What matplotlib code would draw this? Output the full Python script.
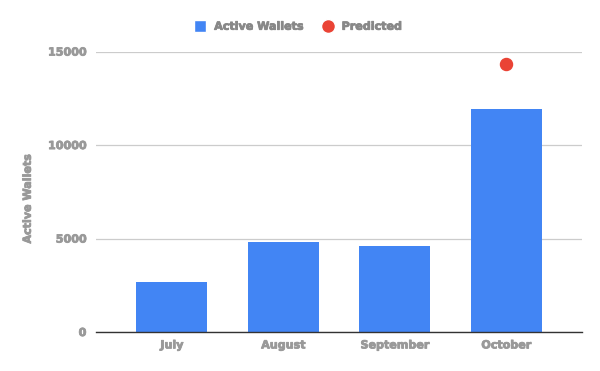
import matplotlib
matplotlib.use("Agg")
import matplotlib.pyplot as plt
from matplotlib.lines import Line2D
import matplotlib.patheffects as pe
import numpy as np

months = ["July", "August", "September", "October"]
active_wallets = [2660, 4800, 4600, 11920]
predicted = [None, None, None, 14310]
y_ticks = [0, 5000, 10000, 15000]

plt.rcParams['font.family'] = ['DejaVu Sans']
W = "bold"
FS = 8
TXT = "#999999"
heavy = [pe.withStroke(linewidth=0.6, foreground=TXT)]

fig = plt.figure(figsize=(6, 3.71), dpi=100)
ax = fig.add_axes([0.16, 0.105, 0.81, 0.756])

x = np.arange(len(months))
ax.bar(x, active_wallets, width=0.64, color="#4285f4", zorder=3)
px = [i for i, v in enumerate(predicted) if v is not None]
py = [v for v in predicted if v is not None]
ax.scatter(px, py, s=75, color="#ea4335", zorder=4)

ax.set_xlim(-0.68, len(months) - 1 + 0.68)
ax.set_ylim(0, 15000)
ax.set_yticks(y_ticks)
ax.set_yticklabels([str(t) for t in y_ticks])
ax.set_xticks(x)
ax.set_xticklabels(months)

for s in ["top", "right", "left"]:
    ax.spines[s].set_visible(False)
ax.spines["bottom"].set_color("#333333")
ax.spines["bottom"].set_linewidth(1.0)
ax.spines["bottom"].set_zorder(5)
ax.grid(axis="y", color="#cccccc", linewidth=0.9, zorder=0)
ax.tick_params(axis="both", length=0, labelsize=FS, labelcolor=TXT)
ax.tick_params(axis="y", pad=7)
ax.tick_params(axis="x", pad=6)
for lab in ax.get_xticklabels() + ax.get_yticklabels():
    lab.set_fontweight(W)
    lab.set_path_effects(heavy)

ax.set_ylabel("Active Wallets", fontsize=FS, fontweight=W, color=TXT, path_effects=heavy)
ax.yaxis.set_label_coords(-0.13, 0.4745)

handles = [
    Line2D([0], [0], marker="s", color="w", markerfacecolor="#4285f4", markersize=9, label="Active Wallets"),
    Line2D([0], [0], marker="o", color="w", markerfacecolor="#ea4335", markersize=10, label="Predicted"),
]
leg = fig.legend(handles=handles, loc="center", bbox_to_anchor=(0.497, 0.928), ncol=2, frameon=False,
                 handletextpad=0.75, columnspacing=1.7, handlelength=1.0,
                 prop={"weight": W, "size": FS})
for t in leg.get_texts():
    t.set_color("#888888")
    t.set_path_effects([pe.withStroke(linewidth=0.6, foreground="#888888")])

fig.savefig("out.png", dpi=100)
